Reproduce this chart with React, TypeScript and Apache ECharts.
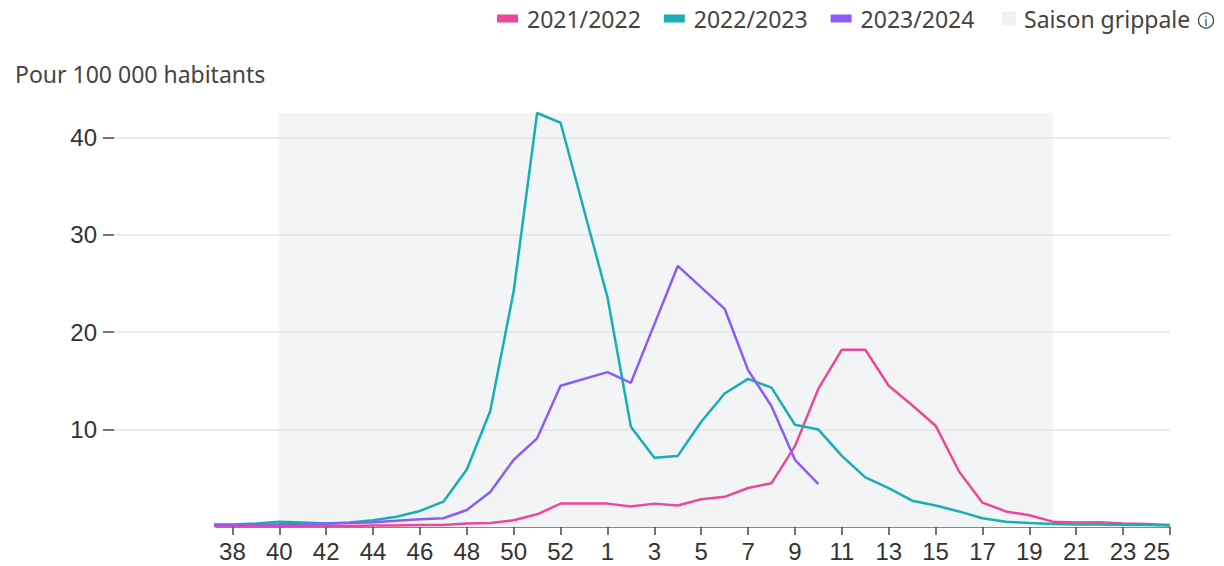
import React, { useEffect, useRef } from "react";
import * as echarts from "echarts";

// ISO weeks shown on the axis (season axis includes a week 53 slot)
const WEEKS = [
  37, 38, 39, 40, 41, 42, 43, 44, 45, 46, 47, 48, 49, 50, 51, 52, 53,
  1, 2, 3, 4, 5, 6, 7, 8, 9, 10, 11, 12, 13, 14, 15, 16, 17, 18, 19, 20, 21, 22, 23, 24, 25,
];

const S2021_2022 = [
  0.1, 0.1, 0.1, 0.1, 0.1, 0.1, 0.1, 0.15, 0.15, 0.2, 0.2, 0.35, 0.4, 0.7, 1.3, 2.4, null,
  2.4, 2.1, 2.4, 2.2, 2.85, 3.1, 4.0, 4.5, 8.3, 14.2, 18.2, 18.2, 14.5, 12.5, 10.4, 5.7, 2.5, 1.6, 1.2, 0.55, 0.45, 0.5, 0.35, 0.3, 0.2,
];

const S2022_2023 = [
  0.25, 0.25, 0.35, 0.55, 0.45, 0.35, 0.45, 0.7, 1.05, 1.65, 2.6, 5.9, 11.9, 24.2, 42.5, 41.5, null,
  23.6, 10.3, 7.1, 7.3, 10.8, 13.7, 15.2, 14.3, 10.5, 10.0, 7.3, 5.1, 4.0, 2.7, 2.2, 1.6, 0.9, 0.55, 0.4, 0.3, 0.25, 0.25, 0.2, 0.2, 0.15,
];

const S2023_2024 = [
  0.2, 0.2, 0.25, 0.27, 0.3, 0.35, 0.4, 0.5, 0.65, 0.8, 0.9, 1.75, 3.6, 6.9, 9.1, 14.5, null,
  15.9, 14.8, 20.8, 26.8, 24.6, 22.4, 16.1, 12.4, 6.9, 4.4, null, null, null, null, null, null, null, null, null, null, null, null, null, null, null,
];

const SERIES_NAMES = ["2021/2022", "2022/2023", "2023/2024"];
const SERIES_COLORS = ["#ec4899", "#19adb5", "#8b5cf6"];
const TICK_WEEKS = [38, 40, 42, 44, 46, 48, 50, 52, 1, 3, 5, 7, 9, 11, 13, 15, 17, 19, 21, 23, 25];
const Y_TICKS = [10, 20, 30, 40];
const SEASON_START_WEEK = 40;
const SEASON_END_WEEK = 20;
const SEASON_LABEL = "Saison grippale";
const Y_UNIT = "Pour 100 000 habitants";

const FIRST_POS = 37;
const AXIS_START = 37.3;

export default function App() {
  const ref = useRef<HTMLDivElement>(null);

  useEffect(() => {
    if (!ref.current) return;
    const chart = echarts.init(ref.current, undefined, { renderer: "svg" });

    const posOf = (w: number) => FIRST_POS + WEEKS.indexOf(w);
    const weekOfPos = (p: number) => WEEKS[Math.round(p) - FIRST_POS];
    const allSeries = [S2021_2022, S2022_2023, S2023_2024];
    const yMax = Math.max(...(allSeries.flat().filter((v) => v != null) as number[]));
    const xMax = FIRST_POS + WEEKS.length - 1;
    const tickPos = TICK_WEEKS.map(posOf);

    const labelFont = {
      fontFamily: "'Liberation Sans', Arial, sans-serif",
      fontSize: 24,
      color: "#333",
    };
    const uiFont = "'Noto Sans', 'Open Sans', sans-serif";

    chart.setOption({
      animation: false,
      title: {
        text: Y_UNIT,
        left: 15,
        top: 62,
        padding: 0,
        textStyle: { fontFamily: uiFont, fontSize: 23, fontWeight: "normal", color: "#444" },
      },
      legend: [
        {
          data: SERIES_NAMES,
          left: 497,
          top: 7,
          padding: 0,
          itemWidth: 21,
          itemHeight: 8,
          itemGap: 23,
          icon: "rect",
          textStyle: { fontFamily: uiFont, fontSize: 23, color: "#444", padding: [0, 0, 0, 4] },
        },
        {
          data: [SEASON_LABEL],
          left: 1002,
          top: 7,
          padding: 0,
          itemWidth: 14,
          itemHeight: 14,
          icon: "rect",
          textStyle: { fontFamily: uiFont, fontSize: 23, color: "#444", padding: [0, 0, 0, 3] },
        },
      ],
      graphic: [
        {
          type: "circle",
          shape: { cx: 1206, cy: 20.5, r: 7.5 },
          style: { fill: "none", stroke: "#444", lineWidth: 1.3 },
        },
        {
          type: "text",
          x: 1206,
          y: 21,
          style: {
            text: "i",
            fontFamily: uiFont,
            fontSize: 13,
            fill: "#444",
            align: "center",
            verticalAlign: "middle",
          },
        },
      ],
      grid: [
        { left: 114, right: 54, top: 113, bottom: 39 },
        { left: 216, right: 54, top: 113, bottom: 39 },
      ],
      xAxis: [
        { type: "value", gridIndex: 0, min: 0, max: 1, show: false },
        {
          type: "value",
          gridIndex: 1,
          min: AXIS_START,
          max: xMax,
          axisLine: { show: true, lineStyle: { color: "#888", width: 1 } },
          axisTick: {
            show: true,
            customValues: tickPos,
            length: 8,
            lineStyle: { color: "#444", width: 1.5 },
          },
          axisLabel: {
            ...labelFont,
            customValues: tickPos,
            margin: 12,
            alignMaxLabel: "right",
            formatter: (v: number) => String(weekOfPos(v)),
          },
          splitLine: { show: false },
        },
      ],
      yAxis: [
        {
          type: "value",
          gridIndex: 0,
          min: 0,
          max: yMax,
          axisLine: { show: false },
          axisTick: {
            show: true,
            customValues: Y_TICKS,
            length: 11,
            lineStyle: { color: "#444", width: 1.5 },
          },
          axisLabel: { ...labelFont, customValues: Y_TICKS, margin: 17 },
          splitLine: { show: true, lineStyle: { color: "#ebebeb", width: 2 } },
        },
        {
          type: "value",
          gridIndex: 1,
          min: 0,
          max: yMax,
          show: false,
          splitLine: { show: false },
        },
      ],
      series: [
        {
          name: SEASON_LABEL,
          type: "line",
          xAxisIndex: 1,
          yAxisIndex: 1,
          data: [],
          itemStyle: { color: "#eff1f4" },
          silent: true,
          markArea: {
            silent: true,
            itemStyle: { color: "rgba(220,223,228,0.35)" },
            data: [[{ xAxis: posOf(SEASON_START_WEEK) }, { xAxis: posOf(SEASON_END_WEEK) }]],
          },
        },
        ...allSeries.map((arr, k) => ({
          name: SERIES_NAMES[k],
          type: "line",
          xAxisIndex: 1,
          yAxisIndex: 1,
          data: arr.map((v, i) => [FIRST_POS + i, v]),
          symbol: "none",
          showSymbol: false,
          connectNulls: true,
          clip: true,
          lineStyle: { width: 2.5, color: SERIES_COLORS[k] },
          itemStyle: { color: SERIES_COLORS[k] },
        })),
      ],
    });

    return () => chart.dispose();
  }, []);

  return (
    <div style={{ position: "fixed", left: 0, top: 0, width: 1224, height: 566, background: "#fff" }}>
      <div ref={ref} style={{ width: 1224, height: 566 }} />
    </div>
  );
}
